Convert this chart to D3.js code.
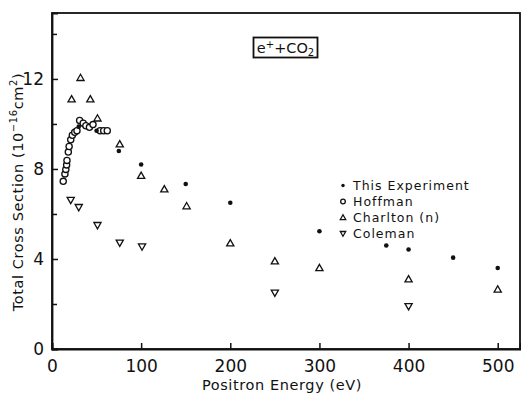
<!DOCTYPE html>
<html>
<head>
<meta charset="utf-8">
<script src="https://cdn.jsdelivr.net/npm/d3@7"></script>
<style>
  body { margin: 0; background: #fff; }
  svg { display: block; }
  text { font-family: "DejaVu Sans", "Liberation Sans", sans-serif; fill: #111; }
</style>
</head>
<body>
<svg id="chart"></svg>
<script>
// Data (energy in eV, cross section in 1e-16 cm^2)
const thisExperiment = [
  [30, 9.88], [50, 9.7], [75, 8.8], [100, 8.2], [150, 7.33], [200, 6.5],
  [300, 5.23], [375, 4.6], [400, 4.42], [450, 4.06], [500, 3.6]
];
const hoffman = [
  [12.6, 7.45], [14.5, 7.78], [15.5, 7.98], [16.4, 8.18], [16.8, 8.38],
  [18.3, 8.75], [19.2, 9.0], [21, 9.3], [22.8, 9.5], [25.5, 9.63], [28, 9.7],
  [31, 10.15], [35, 10.03], [38, 9.92], [42, 9.85], [46, 9.97],
  [54, 9.7], [58, 9.7], [62, 9.7]
];
const charlton = [
  [22, 11.1], [32, 12.05], [43, 11.1], [51, 10.25], [76, 9.1], [100, 7.7],
  [126, 7.1], [151, 6.35], [200, 4.7], [250, 3.9], [300, 3.6], [400, 3.1], [500, 2.65]
];
const coleman = [
  [21, 6.62], [30, 6.3], [51, 5.5], [76, 4.72], [101, 4.55], [250, 2.5], [400, 1.9]
];
const xTicks = [0, 100, 200, 300, 400, 500];
const yTicks = [0, 4, 8, 12];
const yMinorTicks = [2, 6, 10, 14];
const legendItems = [
  { label: 'This Experiment', type: 'dot' },
  { label: 'Hoffman', type: 'circle' },
  { label: 'Charlton (n)', type: 'up' },
  { label: 'Coleman', type: 'down' }
];

const width = 521, height = 396;
const svg = d3.select('#chart').attr('width', width).attr('height', height);

const x = d3.scaleLinear().domain([0, 525]).range([52, 520]);
const y = d3.scaleLinear().domain([0, 14.93]).range([349, 13]);

// Marker drawing helpers
function drawMarker(g, type, cx, cy, scale = 1) {
  if (type === 'dot') {
    g.append('circle').attr('cx', cx).attr('cy', cy).attr('r', 2.3 * scale).attr('fill', '#111');
  } else if (type === 'circle') {
    g.append('circle').attr('cx', cx).attr('cy', cy).attr('r', 3.1 * scale)
      .attr('fill', '#fff').attr('stroke', '#111').attr('stroke-width', 1.3);
  } else {
    const s = 3.6 * scale;
    const pts = type === 'up'
      ? [[cx, cy - s], [cx + s, cy + s * 0.75], [cx - s, cy + s * 0.75]]
      : [[cx, cy + s], [cx + s, cy - s * 0.75], [cx - s, cy - s * 0.75]];
    g.append('path').attr('d', d3.line()(pts) + 'Z')
      .attr('fill', 'none').attr('stroke', '#111').attr('stroke-width', 1.3)
      .attr('stroke-linejoin', 'miter');
  }
}

// Frame
svg.append('rect')
  .attr('x', x(0)).attr('y', y(14.93))
  .attr('width', x(525) - x(0)).attr('height', y(0) - y(14.93))
  .attr('fill', 'none').attr('stroke', '#111').attr('stroke-width', 1.8);

// Axes with inward ticks
const xAxis = svg.append('g').attr('transform', `translate(0,${y(0)})`)
  .call(d3.axisBottom(x).tickValues(xTicks).tickSize(-6).tickPadding(8).tickFormat(d3.format('d')));
const yAxis = svg.append('g').attr('transform', `translate(${x(0)},0)`)
  .call(d3.axisLeft(y).tickValues(yTicks).tickSize(-6).tickPadding(8).tickFormat(d3.format('d')));
svg.append('g').attr('transform', `translate(${x(0)},0)`)
  .call(d3.axisLeft(y).tickValues(yMinorTicks).tickSize(-5).tickFormat(''))
  .call(g => g.select('.domain').remove());

svg.selectAll('.domain').attr('stroke', '#111').attr('stroke-width', 1.8);
svg.selectAll('.tick line').attr('stroke', '#111').attr('stroke-width', 1.5);
svg.selectAll('.tick text').attr('font-size', 17).attr('fill', '#111')
  .attr('font-family', '"DejaVu Sans", sans-serif');
xAxis.selectAll('.tick text').attr('dy', '0.9em');
yAxis.selectAll('.tick text').attr('dy', '0.35em');

// Axis titles
svg.append('text')
  .attr('x', 282).attr('y', 390)
  .attr('text-anchor', 'middle').attr('font-size', 14.5).attr('letter-spacing', 0.6)
  .text('Positron  Energy  (eV)');

const yLabel = svg.append('text')
  .attr('transform', 'translate(23,192) rotate(-90)')
  .attr('text-anchor', 'middle').attr('font-size', 14.5).attr('letter-spacing', 0.6);
yLabel.append('tspan').text('Total  Cross  Section   (10');
yLabel.append('tspan').attr('font-size', 10).attr('dy', -6).text('−16');
yLabel.append('tspan').attr('dy', 6).text('cm');
yLabel.append('tspan').attr('font-size', 10).attr('dy', -6).text('2');
yLabel.append('tspan').attr('dy', 6).text(')');

// Title box
const tb = svg.append('g');
tb.append('rect').attr('x', 253.5).attr('y', 37.5).attr('width', 64).attr('height', 20)
  .attr('fill', '#fff').attr('stroke', '#111').attr('stroke-width', 1.8);
const tt = tb.append('text').attr('x', 285.5).attr('y', 53).attr('text-anchor', 'middle').attr('font-size', 14.5);
tt.append('tspan').text('e');
tt.append('tspan').attr('font-size', 10).attr('dy', -5).text('+');
tt.append('tspan').attr('dy', 5).text('+CO');
tt.append('tspan').attr('font-size', 10).attr('dy', 3).text('2');

// Data points
const pts = svg.append('g');
[[hoffman, 'circle'], [charlton, 'up'], [coleman, 'down'], [thisExperiment, 'dot']].forEach(([data, type]) => {
  data.forEach(d => drawMarker(pts, type, x(d[0]), y(d[1])));
});

// Legend
const legend = svg.append('g');
legendItems.forEach((item, i) => {
  const ly = 190 + i * 16;
  drawMarker(legend, item.type, 343, ly - 4.5, 0.75);
  legend.append('text').attr('x', 353).attr('y', ly)
    .attr('font-size', 12.5).attr('letter-spacing', 1).text(item.label);
});
</script>
</body>
</html>
